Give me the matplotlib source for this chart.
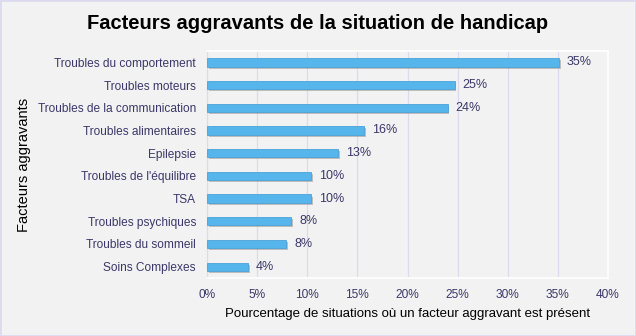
import matplotlib.pyplot as plt
import matplotlib.patheffects as pe
from matplotlib.ticker import FuncFormatter

plt.rcParams['font.family'] = ['Liberation Sans', 'DejaVu Sans']

facteurs = ["Troubles du comportement", "Troubles moteurs", "Troubles de la communication",
            "Troubles alimentaires", "Epilepsie", "Troubles de l'équilibre", "TSA",
            "Troubles psychiques", "Troubles du sommeil", "Soins Complexes"]
pourcentages = [35.1, 24.7, 24.0, 15.7, 13.1, 10.4, 10.4, 8.4, 7.9, 4.1]

bg = '#f2f2f2'
txt = '#3b3768'
grille = '#dcdaee'

fig = plt.figure(figsize=(6.36, 3.36), dpi=100, facecolor=bg)
fig.patches.append(plt.Rectangle((0, 0), 1, 1, transform=fig.transFigure,
                                 fill=False, edgecolor=grille, linewidth=2))
ax = fig.add_axes([0.3255, 0.1726, 0.6305, 0.6754], facecolor=bg)

y = range(len(facteurs))
barres = ax.barh(y, pourcentages, height=0.36, color='#56b6ec', edgecolor='#4aa3da',
                 linewidth=0.6, zorder=3)
for b in barres:
    b.set_path_effects([pe.SimplePatchShadow(offset=(1.2, -1.5), shadow_rgbFace='#9a9a9a', alpha=0.6),
                        pe.Normal()])
for i, v in enumerate(pourcentages):
    ax.text(v + 0.8, i, "%d%%" % round(v), va='center', ha='left', fontsize=9, color=txt)

ax.set_xlim(0, 40)
ax.set_ylim(len(facteurs) - 0.5, -0.5)
ax.set_xticks(range(0, 41, 5))
ax.xaxis.set_major_formatter(FuncFormatter(lambda x, p: "%d%%" % x))
ax.set_yticks(list(y))
ax.set_yticklabels(facteurs)
ax.tick_params(length=0, labelsize=8.6, labelcolor=txt, pad=8)
ax.grid(axis='x', color=grille, linewidth=0.9, zorder=0)
for s in ['top', 'right', 'bottom']:
    ax.spines[s].set_color('white')
    ax.spines[s].set_linewidth(1.2)
ax.spines['left'].set_color(grille)

ax.set_xlabel("Pourcentage de situations où un facteur aggravant est présent", fontsize=9.5,
              color='black', labelpad=5)
ax.set_ylabel("Facteurs aggravants", fontsize=10.5, color='black')
ax.yaxis.set_label_coords(-0.44, 0.5)
fig.text(0.5, 0.93, "Facteurs aggravants de la situation de handicap", ha='center', va='center',
         fontsize=14.5, fontweight='bold', color='black')

fig.savefig('out.png', dpi=100, facecolor=bg)
